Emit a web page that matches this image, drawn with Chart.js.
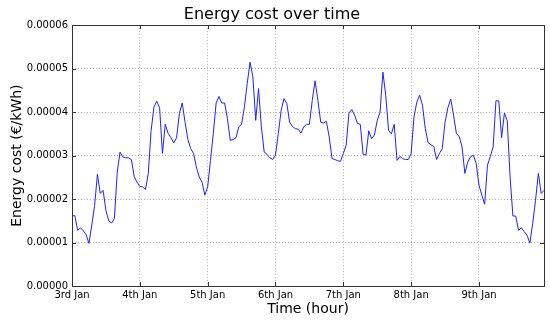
<!DOCTYPE html>
<html>
<head>
<meta charset="utf-8">
<script src="https://cdn.jsdelivr.net/npm/chart.js@4/dist/chart.umd.min.js"></script>
<style>
  html, body { margin: 0; padding: 0; background: #fff; }
</style>
</head>
<body>
<canvas id="costChart" width="550" height="322"></canvas>
<script>
// Hourly energy cost (€/kWh), 3rd Jan 00:00 to 9th Jan 23:00
const costValues = [
    1.61e-5, 1.62e-5, 1.28e-5, 1.34e-5, 1.27e-5, 1.18e-5, 0.98e-5, 1.40e-5, 1.85e-5, 2.57e-5, 2.13e-5, 2.20e-5,
    1.74e-5, 1.50e-5, 1.45e-5, 1.55e-5, 2.62e-5, 3.08e-5, 2.97e-5, 2.95e-5, 2.95e-5, 2.91e-5, 2.52e-5, 2.39e-5,
    2.29e-5, 2.28e-5, 2.22e-5, 2.59e-5, 3.58e-5, 4.12e-5, 4.25e-5, 4.10e-5, 3.05e-5, 3.72e-5, 3.51e-5, 3.41e-5,
    3.29e-5, 3.41e-5, 3.97e-5, 4.21e-5, 3.77e-5, 3.37e-5, 3.16e-5, 3.05e-5, 2.74e-5, 2.51e-5, 2.39e-5, 2.09e-5,
    2.28e-5, 2.89e-5, 3.51e-5, 4.21e-5, 4.36e-5, 4.21e-5, 4.21e-5, 3.85e-5, 3.35e-5, 3.37e-5, 3.41e-5, 3.66e-5,
    3.72e-5, 4.12e-5, 4.66e-5, 5.15e-5, 4.81e-5, 3.81e-5, 4.54e-5, 3.66e-5, 3.08e-5, 3.03e-5, 2.95e-5, 2.91e-5,
    3.01e-5, 3.51e-5, 4.04e-5, 4.31e-5, 4.20e-5, 3.77e-5, 3.67e-5, 3.62e-5, 3.61e-5, 3.52e-5, 3.66e-5, 3.72e-5,
    3.72e-5, 4.27e-5, 4.72e-5, 4.27e-5, 3.77e-5, 3.75e-5, 3.79e-5, 3.43e-5, 2.93e-5, 2.91e-5, 2.88e-5, 2.87e-5,
    3.05e-5, 3.24e-5, 3.98e-5, 4.06e-5, 3.93e-5, 3.74e-5, 3.72e-5, 3.03e-5, 3.01e-5, 3.57e-5, 3.39e-5, 3.47e-5,
    3.81e-5, 4.00e-5, 4.92e-5, 4.39e-5, 3.58e-5, 3.50e-5, 3.72e-5, 2.89e-5, 2.98e-5, 2.93e-5, 2.91e-5, 2.91e-5,
    3.05e-5, 3.89e-5, 4.23e-5, 4.39e-5, 4.16e-5, 3.62e-5, 3.30e-5, 3.25e-5, 3.21e-5, 2.91e-5, 3.05e-5, 3.16e-5,
    3.77e-5, 4.10e-5, 4.30e-5, 3.93e-5, 3.51e-5, 3.44e-5, 3.20e-5, 2.59e-5, 2.85e-5, 2.97e-5, 3.01e-5, 2.82e-5,
    2.32e-5, 2.09e-5, 1.88e-5, 2.78e-5, 2.98e-5, 3.20e-5, 4.26e-5, 4.26e-5, 3.41e-5, 3.98e-5, 3.80e-5, 2.51e-5,
    1.61e-5, 1.61e-5, 1.28e-5, 1.34e-5, 1.25e-5, 1.17e-5, 0.99e-5, 1.44e-5, 1.97e-5, 2.59e-5, 2.13e-5, 2.20e-5
];

// x tick labels, one per day (every 24 hours)
const dayLabels = ["3rd Jan", "4th Jan", "5th Jan", "6th Jan", "7th Jan", "8th Jan", "9th Jan"];
const dayTicks = [0, 24, 48, 72, 96, 120, 144];

// y tick values
const costTicks = [0, 0.00001, 0.00002, 0.00003, 0.00004, 0.00005, 0.00006];

const points = costValues.map((v, h) => ({ x: h, y: v }));

const FONT = "'DejaVu Sans', sans-serif";

// matplotlib-like frame with inward ticks on all four sides
const framePlugin = {
    id: "frame",
    afterDraw(chart) {
        const { ctx, chartArea: a, scales } = chart;
        ctx.save();
        ctx.strokeStyle = "#333";
        ctx.lineWidth = 1;
        ctx.strokeRect(Math.round(a.left) + 0.5, Math.round(a.top) + 0.5,
            Math.round(a.right - a.left), Math.round(a.bottom - a.top));
        ctx.beginPath();
        scales.x.ticks.forEach(t => {
            const px = Math.round(scales.x.getPixelForValue(t.value)) + 0.5;
            ctx.moveTo(px, a.bottom); ctx.lineTo(px, a.bottom - 4);
            ctx.moveTo(px, a.top); ctx.lineTo(px, a.top + 4);
        });
        scales.y.ticks.forEach(t => {
            const py = Math.round(scales.y.getPixelForValue(t.value)) + 0.5;
            ctx.moveTo(a.left, py); ctx.lineTo(a.left + 4, py);
            ctx.moveTo(a.right, py); ctx.lineTo(a.right - 4, py);
        });
        ctx.stroke();
        ctx.restore();
    }
};

new Chart(document.getElementById("costChart").getContext("2d"), {
    type: "line",
    data: {
        datasets: [{
            data: points,
            borderColor: "#2020ff",
            borderWidth: 1,
            pointRadius: 0,
            tension: 0,
            fill: false
        }]
    },
    options: {
        responsive: false,
        animation: false,
        layout: { padding: { left: 0, right: 6, top: 0, bottom: 0 } },
        plugins: {
            legend: { display: false },
            tooltip: { enabled: false },
            title: {
                display: true,
                text: "Energy cost over time",
                color: "#000",
                font: { family: FONT, size: 16, weight: "normal" },
                padding: { top: 5, bottom: 1 }
            }
        },
        scales: {
            x: {
                type: "linear",
                min: 0,
                max: costValues.length - 1,
                afterBuildTicks: scale => { scale.ticks = dayTicks.map(v => ({ value: v })); },
                afterFit: scale => { scale.height = 36; },
                ticks: {
                    color: "#000",
                    font: { family: FONT, size: 10 },
                    padding: 3,
                    maxRotation: 0,
                    callback: v => dayLabels[dayTicks.indexOf(v)]
                },
                grid: { color: "#b0b0b0", drawTicks: false },
                border: { display: false, dash: [1, 2] },
                title: {
                    display: true,
                    text: "Time (hour)",
                    color: "#000",
                    font: { family: FONT, size: 14 },
                    padding: { top: 0, bottom: 4 }
                }
            },
            y: {
                min: 0,
                max: 0.00006,
                afterBuildTicks: scale => { scale.ticks = costTicks.map(v => ({ value: v })); },
                afterFit: scale => { scale.width = 72; },
                ticks: {
                    color: "#000",
                    font: { family: FONT, size: 10 },
                    padding: 4,
                    callback: v => v.toFixed(5)
                },
                grid: { color: "#b0b0b0", drawTicks: false },
                border: { display: false, dash: [1, 2] },
                title: {
                    display: true,
                    text: "Energy cost (€/kWh)",
                    color: "#000",
                    font: { family: FONT, size: 14 },
                    padding: { top: 8.6, bottom: 0 }
                }
            }
        }
    },
    plugins: [framePlugin]
});
</script>
</body>
</html>
